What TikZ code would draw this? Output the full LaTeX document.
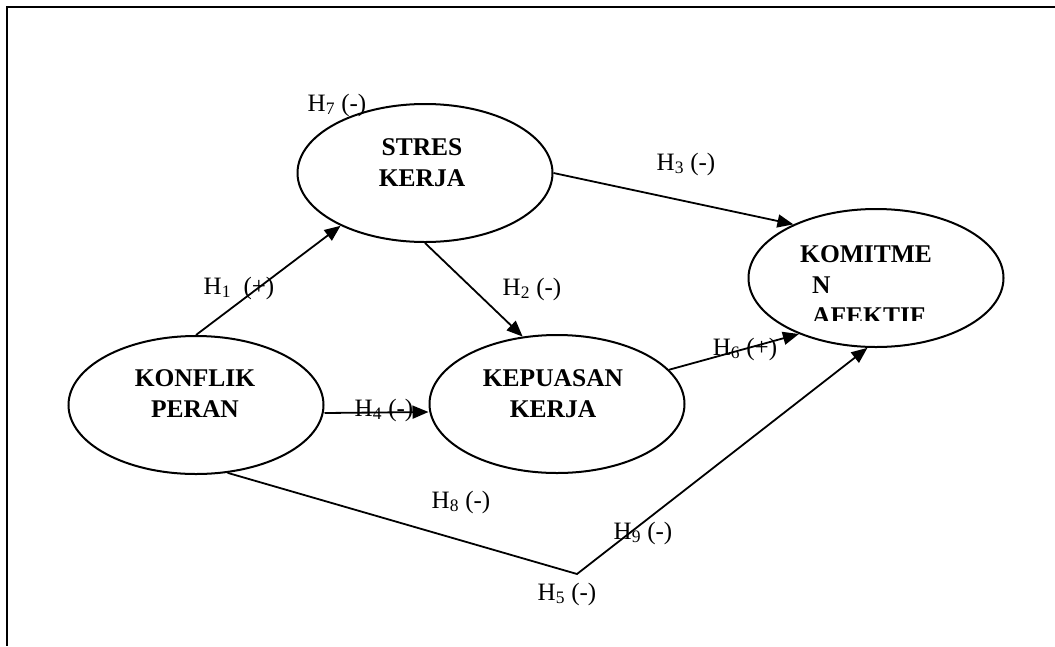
\documentclass[tikz,border=0pt]{standalone}
\usepackage{fontspec}
\setmainfont{Liberation Serif}
\usetikzlibrary{shapes.geometric,arrows.meta}

\tikzset{
  oval/.style={ellipse, draw, line width=2pt, minimum width=255pt, minimum height=138pt, inner sep=0pt},
  judul/.style={font=\fontsize{25.5}{31}\selectfont\bfseries, align=center, inner sep=0pt},
  hipo/.style={font=\fontsize{25}{30}\selectfont, inner sep=0pt},
  panah/.style={line width=1.8pt, -{Triangle[length=16pt,width=13pt]}}
}

\begin{document}
\begin{tikzpicture}[x=1pt,y=-1pt]
				\useasboundingbox (0,0) rectangle (1055,646);
				%Bingkai
				\draw[line width=2pt] (1055,7) -- (7,7) -- (7,646);
				%Elips
				\node[oval] (stres) at (425,173) {};
				\node[oval] (komitmen) at (876,278) {};
				\node[oval] (konflik) at (196,405) {};
				\node[oval] (kepuasan) at (557,404) {};
				%Nama variabel
				\node[judul] (stresteks) at (422,163) {STRES\\KERJA};
				\node[judul] (konflikteks) at (195,394) {KONFLIK\\PERAN};
				\node[judul] (kepuasanteks) at (553,394) {KEPUASAN\\KERJA};
				\begin{scope}
					\clip (740,200) rectangle (1010,320);
					\node[judul, align=left, anchor=north west] (komitmenteks) at (800,245) {KOMITME\\\hspace*{12pt}N\\\hspace*{12pt}AFEKTIF};
				\end{scope}
				%Hipotesis
				\node[hipo] (h7) at (337,105) {H\textsubscript{7} (-)};
				\node[hipo] (h1) at (239,288) {H\textsubscript{1}\ \ (+)};
				\node[hipo] (h2) at (532,289) {H\textsubscript{2} (-)};
				\node[hipo] (h3) at (686,164) {H\textsubscript{3} (-)};
				\node[hipo] (h4) at (384,410) {H\textsubscript{4} (-)};
				\node[hipo] (h6) at (745,349) {H\textsubscript{6} (+)};
				\node[hipo] (h8) at (461,502) {H\textsubscript{8} (-)};
				\node[hipo] (h9) at (643,533) {H\textsubscript{9} (-)};
				\node[hipo] (h5) at (567,594) {H\textsubscript{5} (-)};
				%Panah
				\coordinate (tekuk) at (577,574);
				\draw[panah] (konflik.north) -- (stres.212);
				\draw[panah] (stres.south) -- (kepuasan.117);
				\draw[panah] (stres.east) -- (komitmen.147);
				\draw[panah] ([yshift=-8pt]konflik.east) -- ([yshift=-8pt]kepuasan.west);
				\draw[panah] (kepuasan.17) -- (komitmen.216);
				\draw[panah] (konflik.295) -- (tekuk) -- (komitmen.263);
\end{tikzpicture}
\end{document}
